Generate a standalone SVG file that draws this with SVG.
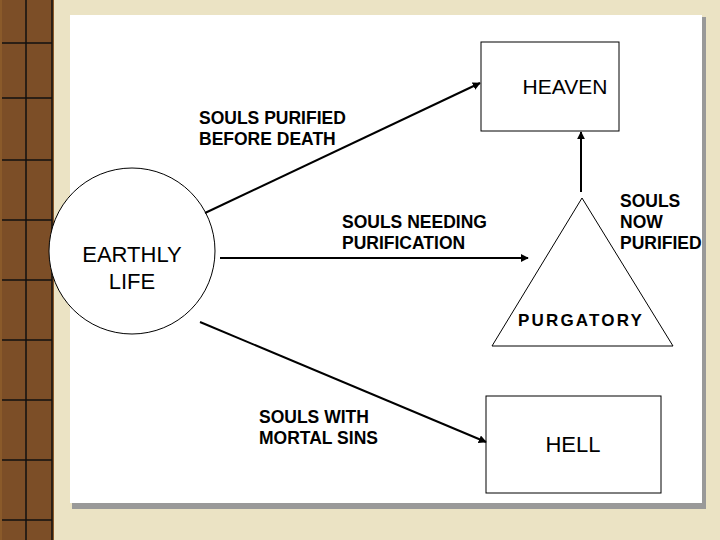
<svg xmlns="http://www.w3.org/2000/svg" width="720" height="540" viewBox="0 0 720 540">
<defs>
<style>
.t{font-family:"Liberation Sans",Arial,sans-serif;font-size:17.5px;fill:#000}
.b{font-weight:bold}
.n{fill:#fff;stroke:#000;stroke-width:1}
.c{stroke:#000;stroke-width:2;fill:none}
</style>
<marker id="a" viewBox="0 0 10 10" refX="9" refY="5" markerWidth="4" markerHeight="4" orient="auto"><path d="M0,0L10,5L0,10z" fill="#000"/></marker>
</defs>
<rect width="720" height="540" fill="#ebe3c4"/>
<rect x="0" y="0" width="54" height="540" fill="#8a5a2a"/>
<rect x="2" y="0" width="50" height="540" fill="#6e4124" opacity="0.5"/>
<g stroke="#111" stroke-width="1.5"><line x1="26" y1="0" x2="26" y2="540"/><line x1="52" y1="0" x2="52" y2="540"/>
<line x1="2" y1="43" x2="52" y2="43"/><line x1="2" y1="98" x2="52" y2="98"/><line x1="2" y1="160" x2="52" y2="160"/><line x1="2" y1="220" x2="52" y2="220"/><line x1="2" y1="280" x2="52" y2="280"/><line x1="2" y1="340" x2="52" y2="340"/><line x1="2" y1="400" x2="52" y2="400"/><line x1="2" y1="460" x2="52" y2="460"/><line x1="2" y1="520" x2="52" y2="520"/></g>
<rect x="72" y="17" width="634" height="492" fill="#999"/>
<rect x="70" y="15" width="632" height="488" fill="#fff"/>
<g id="earthly"><circle class="n" cx="132" cy="251" r="83"/><text class="t" text-anchor="middle" style="font-size:22px"><tspan x="132" y="262">EARTHLY</tspan><tspan x="132" y="289">LIFE</tspan></text></g>
<g id="heaven"><rect class="n" x="481" y="42" width="138" height="89"/><text class="t" x="565" y="94" text-anchor="middle" style="font-size:21px">HEAVEN</text></g>
<g id="purgatory"><path class="n" d="M582,198L492,346L673,346z"/><text class="t b" x="581" y="326" text-anchor="middle" style="font-size:17px;letter-spacing:2.2px">PURGATORY</text></g>
<g id="hell"><rect class="n" x="486" y="396" width="175" height="97"/><text class="t" x="573" y="452" text-anchor="middle" style="font-size:22px">HELL</text></g>
<g id="connectors">
<line class="c" x1="205" y1="213" x2="480" y2="83" marker-end="url(#a)"/>
<line class="c" x1="220" y1="258" x2="528" y2="258" marker-end="url(#a)"/>
<line class="c" x1="200" y1="322" x2="486" y2="442" marker-end="url(#a)"/>
<line class="c" x1="581" y1="192" x2="581" y2="132" marker-end="url(#a)"/>
</g>
<g id="labels">
<text class="t b" x="199" y="124">SOULS PURIFIED</text><text class="t b" x="199" y="145">BEFORE DEATH</text>
<text class="t b" x="342" y="228">SOULS NEEDING</text><text class="t b" x="342" y="249">PURIFICATION</text>
<text class="t b" x="620" y="207">SOULS</text><text class="t b" x="620" y="228">NOW</text><text class="t b" x="620" y="249">PURIFIED</text>
<text class="t b" x="259" y="423">SOULS WITH</text><text class="t b" x="259" y="444">MORTAL SINS</text>
</g>
</svg>
